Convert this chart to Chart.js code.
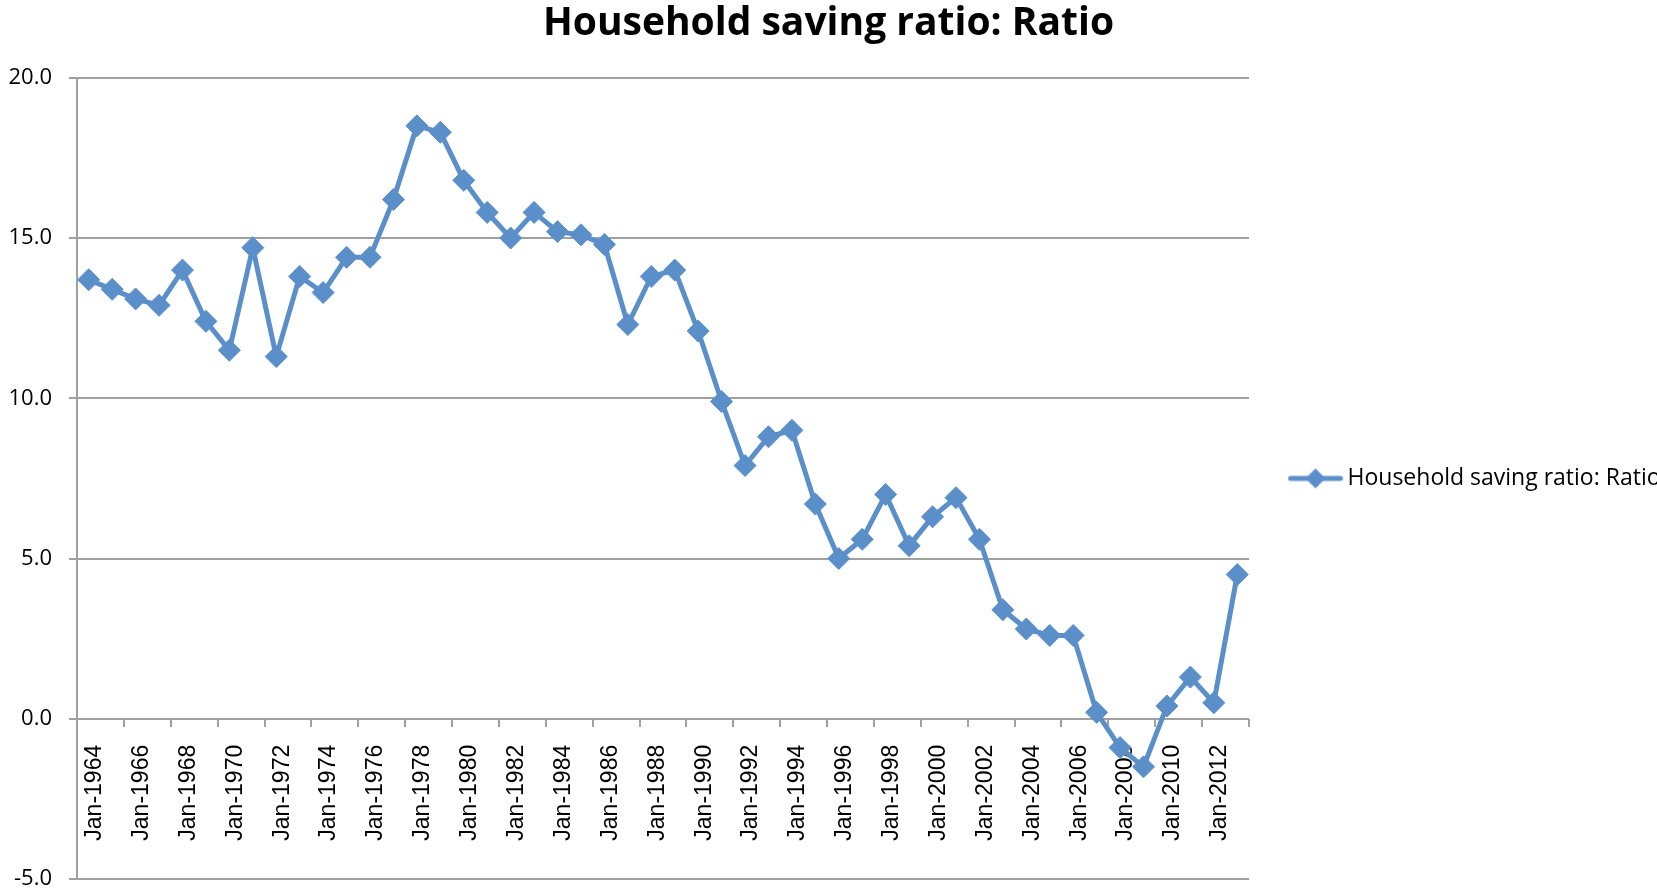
<!DOCTYPE html>
<html>
<head>
<meta charset="utf-8">
<title>Household saving ratio: Ratio</title>
<script src="https://cdn.jsdelivr.net/npm/chart.js@4.4.1/dist/chart.umd.min.js"></script>
<style>
  html, body { margin: 0; padding: 0; background: #fff; }
  #wrap { position: relative; width: 1657px; height: 893px; }
</style>
</head>
<body>
<div id="wrap"><canvas id="chart"></canvas></div>
<script>
// ── Data ──────────────────────────────────────────────────
const TITLE = 'Household saving ratio: Ratio';
const SERIES_LABEL = 'Household saving ratio: Ratio';

const categories = [
  'Jan-1964', 'Jan-1965', 'Jan-1966', 'Jan-1967', 'Jan-1968', 'Jan-1969', 'Jan-1970', 'Jan-1971', 'Jan-1972', 'Jan-1973',
  'Jan-1974', 'Jan-1975', 'Jan-1976', 'Jan-1977', 'Jan-1978', 'Jan-1979', 'Jan-1980', 'Jan-1981', 'Jan-1982', 'Jan-1983',
  'Jan-1984', 'Jan-1985', 'Jan-1986', 'Jan-1987', 'Jan-1988', 'Jan-1989', 'Jan-1990', 'Jan-1991', 'Jan-1992', 'Jan-1993',
  'Jan-1994', 'Jan-1995', 'Jan-1996', 'Jan-1997', 'Jan-1998', 'Jan-1999', 'Jan-2000', 'Jan-2001', 'Jan-2002', 'Jan-2003',
  'Jan-2004', 'Jan-2005', 'Jan-2006', 'Jan-2007', 'Jan-2008', 'Jan-2009', 'Jan-2010', 'Jan-2011', 'Jan-2012', 'Jan-2013',
];

const savingRatio = [
  13.7, 13.4, 13.1, 12.9, 14.0, 12.4, 11.5, 14.7, 11.3, 13.8,
  13.3, 14.4, 14.4, 16.2, 18.5, 18.3, 16.8, 15.8, 15.0, 15.8,
  15.2, 15.1, 14.8, 12.3, 13.8, 14.0, 12.1,  9.9,  7.9,  8.8,
   9.0,  6.7,  5.0,  5.6,  7.0,  5.4,  6.3,  6.9,  5.6,  3.4,
   2.8,  2.6,  2.6,  0.2, -0.9, -1.5,  0.4,  1.3,  0.5,  4.5,
];

const yMin = -5;
const yMax = 20;
const yStep = 5;

// ── Styles ────────────────────────────────────────────────
const BLUE = '#5b8fc9';
const GRID = '#a0a0a0';

// legend marker: line with a diamond in the middle
// (canvas is wider than the legend box so the text gap stays Excel-like)
function legendMarker() {
  const c = document.createElement('canvas');
  c.width = 62; c.height = 22;
  const g = c.getContext('2d');
  g.strokeStyle = BLUE; g.lineWidth = 5; g.lineCap = 'round';
  g.beginPath(); g.moveTo(3, 11); g.lineTo(53, 11); g.stroke();
  g.fillStyle = BLUE;
  g.beginPath(); g.moveTo(28, 1); g.lineTo(38, 11); g.lineTo(28, 21); g.lineTo(18, 11); g.closePath(); g.fill();
  return c;
}

new Chart(document.getElementById('chart'), {
  type: 'line',
  data: {
    labels: categories,
    datasets: [{
      label: SERIES_LABEL,
      data: savingRatio,
      borderColor: BLUE,
      backgroundColor: BLUE,
      pointBackgroundColor: BLUE,
      pointBorderColor: BLUE,
      borderWidth: 5,
      pointStyle: 'rectRot',
      pointRadius: 11,
      pointBorderWidth: 1,
      tension: 0,
    }],
  },
  options: {
    responsive: true,
    maintainAspectRatio: false,
    animation: false,
    layout: { padding: { left: 0, right: 0, top: 0, bottom: 14 } },
    plugins: {
      title: {
        display: true,
        text: TITLE,
        color: '#000',
        font: { family: '"Open Sans"', size: 39, weight: 'bold' },
        padding: { top: 0, bottom: 31 },
      },
      legend: {
        position: 'right',
        fullSize: false,
        maxWidth: 408,
        labels: {
          usePointStyle: true,
          pointStyle: legendMarker(),
          pointStyleWidth: 35,
          padding: 52,
          color: '#000',
          font: { family: '"Open Sans"', size: 23 },
        },
      },
      tooltip: { enabled: false },
    },
    scales: {
      x: {
        position: { y: 0 },
        offset: true,
        afterFit: s => { s.height = 0; },
        border: { display: false },
        grid: {
          offset: true,
          drawOnChartArea: false,
          drawTicks: true,
          tickLength: 8,
          lineWidth: 2,
          tickColor: ctx => (ctx.type !== 'tick' || ctx.index % 2 === 0) ? GRID : 'rgba(0,0,0,0)',
        },
        ticks: {
          autoSkip: false,
          minRotation: 90,
          maxRotation: 90,
          padding: 18,
          labelOffset: 6,
          color: '#000',
          font: { family: '"Liberation Sans"', size: 23 },
          callback: (v, i) => (i % 2 === 0 ? categories[i] : ''),
        },
      },
      y: {
        min: yMin,
        max: yMax,
        afterFit: s => { s.width = 77; s.paddingTop = 0; s.paddingBottom = 0; },
        border: { display: true, color: GRID, width: 2 },
        grid: {
          color: GRID,
          lineWidth: 2,
          drawTicks: true,
          tickLength: 8,
        },
        ticks: {
          stepSize: yStep,
          padding: 17,
          color: '#000',
          font: { family: '"Open Sans"', size: 22 },
          callback: v => v.toFixed(1),
        },
      },
    },
  },
});
</script>
</body>
</html>
